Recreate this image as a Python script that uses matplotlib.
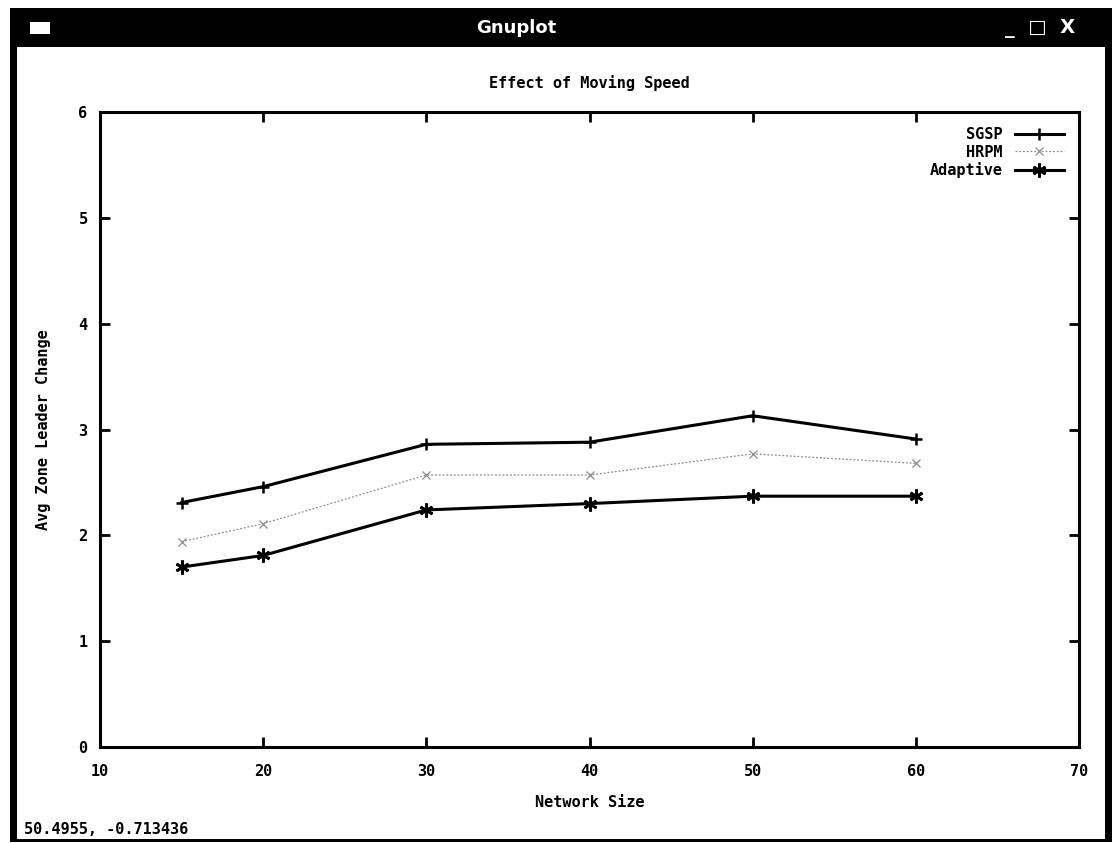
import numpy as np
import matplotlib
matplotlib.use("Agg")
import matplotlib.pyplot as plt
from matplotlib.patches import Rectangle

plt.rcParams.update({
    "font.family": "DejaVu Sans Mono",
    "font.size": 11,
    "font.weight": "bold",
})

# data
network_size = [15, 20, 30, 40, 50, 60]
sgsp = [2.31, 2.46, 2.86, 2.88, 3.13, 2.91]
hrpm = [1.94, 2.11, 2.57, 2.57, 2.77, 2.68]
adaptive = [1.70, 1.81, 2.24, 2.30, 2.37, 2.37]

x_ticks = [10, 20, 30, 40, 50, 60, 70]
y_ticks = [0, 1, 2, 3, 4, 5, 6]

W, H = 1117, 843
fig = plt.figure(figsize=(W / 100, H / 100), dpi=100)

def px(x0, y0, w, h):
    # pixel box (top-left origin) -> figure fraction
    return (x0 / W, 1 - (y0 + h) / H, w / W, h / H)

def block(x, y, w, h, color="black", z=0):
    x0, y0, ww, hh = px(x, y, w, h)
    fig.patches.append(Rectangle((x0, y0), ww, hh, transform=fig.transFigure,
                                 facecolor=color, edgecolor="none", zorder=z))

# window chrome
block(10, 8, 1102, 39)
block(10, 8, 7, 834)
block(1105, 8, 7, 834)
block(10, 839, 1102, 3)
block(30, 22, 20, 12, color="white", z=1)
fig.text(516 / W, 1 - 28 / H, "Gnuplot", color="white", fontsize=13,
         fontweight="bold", family="DejaVu Sans", ha="center", va="center")
fig.text(1040 / W, 1 - 28 / H, "_  \u25a1  X", color="white", fontsize=14,
         fontweight="bold", family="DejaVu Sans", ha="center", va="center")
fig.text(24 / W, 1 - 829 / H, "50.4955, -0.713436", fontsize=11,
         ha="left", va="center")

ax = fig.add_axes(px(100, 112, 979, 635))
ax.plot(network_size, sgsp, color="black", lw=2.2, marker="+", ms=9, mew=1.8,
        label="SGSP")
ax.plot(network_size, hrpm, color="0.55", lw=0.9, ls=(0, (1.5, 1.5)), marker="x",
        ms=6, mew=0.9, label="HRPM")
ax.plot(network_size, adaptive, color="black", lw=2.2, marker=(6, 2, 0), ms=10,
        mew=2, label="Adaptive")

ax.set_xlim(10, 70)
ax.set_ylim(0, 6)
ax.set_xticks(x_ticks)
ax.set_yticks(y_ticks)
ax.tick_params(direction="in", length=7, width=2, top=True, right=True,
               labelsize=11)
ax.tick_params(axis="x", pad=12)
ax.tick_params(axis="y", pad=9)
for s in ax.spines.values():
    s.set_linewidth(2.2)

ax.set_title("Effect of Moving Speed", fontsize=11, fontweight="bold", pad=17)
ax.set_xlabel("Network Size", fontsize=11, fontweight="bold", labelpad=12)
ax.set_ylabel("Avg Zone Leader Change", fontsize=11, fontweight="bold",
              labelpad=20)

leg = ax.legend(loc="upper right", frameon=False, markerfirst=False,
                handlelength=3.2, handletextpad=0.8, labelspacing=0.15,
                fontsize=11, borderaxespad=0.6)
for t in leg.get_texts():
    t.set_ha("right")

fig.savefig("out.png", dpi=100, facecolor="white")
